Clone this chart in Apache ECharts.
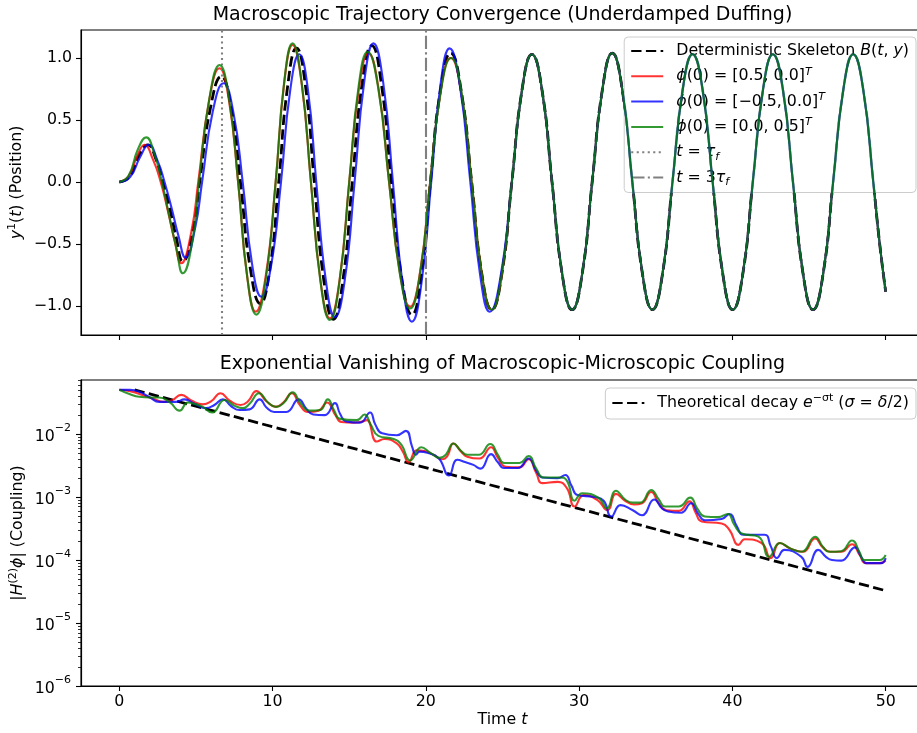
<!DOCTYPE html>
<html>
<head>
<meta charset="utf-8">
<script src="https://cdn.jsdelivr.net/npm/echarts@6/dist/echarts.min.js"></script>
<style>
  html, body { margin: 0; padding: 0; background: #fff; }
  #chart { width: 917px; height: 733px; }
</style>
</head>
<body>
<div id="chart"></div>
<script>
// ---------------- data ----------------
const xTicks = [0, 10, 20, 30, 40, 50];
const yTicksTop = [-1.0, -0.5, 0.0, 0.5, 1.0];
const refTimes = [6.667, 20];          // t = tau_f, t = 3 tau_f

// Top panel: [t, y1(t)]
const skeletonEarly = [[0,0],[0.65,0.04],[1.3,0.22],[1.85,0.30],[2.4,0.18],[2.83,0],[3.3,-0.22],[3.7,-0.44],[4.14,-0.64],[4.8,-0.39],[5.24,0],[5.95,0.6],[6.65,0.85],[7.28,0.61],[7.9,0],[8.55,-0.70],[9.2,-0.98],[9.8,-0.72],[10.4,0],[10.98,0.77],[11.56,1.08],[12.14,0.78],[12.72,0],[13.34,-0.79],[13.96,-1.107],[14.58,-0.80],[15.2,0],[15.84,0.79],[16.47,1.10],[17.11,0.78],[17.75,0],[18.42,-0.77],[19.09,-1.07],[19.7,-0.76],[20.3,0],[20.96,0.75],[21.62,1.04],[22.3,0.74]];
const redEarly = [[0,0],[0.6,0.045],[1.2,0.22],[1.64,0.30],[2.2,0.18],[2.7,0],[3.2,-0.25],[3.6,-0.47],[4.04,-0.655],[4.7,-0.40],[5.15,0],[5.85,0.65],[6.54,0.917],[7.15,0.66],[7.75,0],[8.33,-0.75],[8.9,-1.046],[9.55,-0.76],[10.2,0],[10.75,0.79],[11.3,1.105],[11.9,0.79],[12.5,0],[13.12,-0.79],[13.74,-1.10],[14.37,-0.79],[15.0,0],[15.63,0.75],[16.25,1.04],[16.93,0.74],[17.6,0],[18.29,-0.72],[18.98,-1.005],[19.63,-0.72],[20.28,0],[20.95,0.72],[21.62,1.0],[22.3,0.73]];
const blueEarly = [[0,0],[0.7,0.04],[1.35,0.20],[1.92,0.30],[2.5,0.17],[2.95,0],[3.45,-0.23],[3.85,-0.43],[4.32,-0.61],[4.95,-0.37],[5.4,0],[6.1,0.57],[6.8,0.796],[7.43,0.57],[8.05,0],[8.66,-0.66],[9.27,-0.925],[9.91,-0.67],[10.55,0],[11.15,0.74],[11.74,1.03],[12.3,0.75],[12.85,0],[13.46,-0.78],[14.07,-1.09],[14.71,-0.79],[15.35,0],[15.97,0.80],[16.58,1.118],[17.22,0.80],[17.85,0],[18.47,-0.81],[19.09,-1.127],[19.72,-0.81],[20.35,0],[20.95,0.78],[21.55,1.078],[22.23,0.77],[22.9,0],[23.54,-0.75],[24.17,-1.046],[24.89,-0.75]];
const greenEarly = [[0,0],[0.6,0.05],[1.2,0.26],[1.75,0.36],[2.3,0.22],[2.78,0],[3.25,-0.27],[3.7,-0.52],[4.14,-0.736],[4.8,-0.45],[5.2,0],[5.87,0.67],[6.54,0.944],[7.15,0.68],[7.75,0],[8.35,-0.77],[8.94,-1.07],[9.57,-0.77],[10.2,0],[10.75,0.80],[11.3,1.118],[11.9,0.80],[12.5,0],[13.12,-0.80],[13.74,-1.113],[14.37,-0.80],[15.0,0],[15.6,0.76],[16.2,1.05],[16.9,0.75],[17.6,0],[18.29,-0.73],[18.98,-1.02],[19.63,-0.73],[20.28,0],[20.96,0.72],[21.65,1.0],[22.32,0.73]];
// common (converged) part
const convergedA = [[22.99,0],[23.65,-0.74],[24.3,-1.03],[24.96,-0.74]];
const convergedB = [[25.61,0],[26.27,0.74],[26.92,1.03],[27.58,0.74],[28.23,0],[28.89,-0.74],[29.54,-1.03],[30.2,-0.74],[30.85,0],[31.51,0.74],[32.16,1.04],[32.82,0.74],[33.47,0],[34.13,-0.74],[34.78,-1.03],[35.44,-0.74],[36.09,0],[36.75,0.74],[37.40,1.03],[38.06,0.74],[38.71,0],[39.37,-0.74],[40.02,-1.03],[40.68,-0.74],[41.33,0],[41.99,0.74],[42.64,1.03],[43.3,0.74],[43.95,0],[44.61,-0.74],[45.26,-1.03],[45.92,-0.74],[46.57,0],[47.23,0.74],[47.88,1.03],[48.54,0.74],[49.19,0],[49.6,-0.49],[50,-0.885]];

// Bottom panel: [t, log10 |H^(2) phi|]
const redExp = [[0,-1.30],[0.7,-1.32],[1.5,-1.38],[2.3,-1.45],[2.9,-1.49],[3.4,-1.47],[4.04,-1.38],[4.7,-1.47],[5.45,-1.53],[6.0,-1.48],[6.6,-1.354],[7.2,-1.47],[7.9,-1.54],[8.4,-1.48],[8.94,-1.32],[9.6,-1.48],[10.2,-1.57],[10.7,-1.50],[11.25,-1.354],[11.8,-1.55],[12.3,-1.65],[13.0,-1.63],[13.55,-1.50],[14.1,-1.70],[14.5,-1.81],[15.3,-1.82],[15.9,-1.80],[16.15,-1.78],[16.8,-2.12],[17.3,-2.08],[18.1,-2.15],[18.5,-2.28],[18.87,-2.45],[19.4,-2.26],[19.9,-2.27],[20.5,-2.33],[21.05,-2.40],[21.4,-2.35],[21.8,-2.15],[22.3,-2.28],[22.7,-2.36],[23.5,-2.39],[24.25,-2.21],[24.7,-2.38],[25.2,-2.52],[26.1,-2.53],[26.7,-2.40],[27.2,-2.62],[27.6,-2.78],[28.6,-2.76],[29.2,-2.86],[29.7,-3.15],[30.3,-2.97],[31.2,-3.05],[31.85,-3.21],[32.4,-2.95],[33.0,-3.06],[33.6,-3.12],[34.1,-3.10],[34.7,-2.92],[35.2,-3.10],[35.7,-3.21],[36.5,-3.22],[37.2,-3.07],[37.6,-3.25],[38.0,-3.39],[39.3,-3.42],[39.8,-3.52],[40.4,-3.76],[40.8,-3.67],[41.9,-3.73],[42.5,-3.97],[43.1,-3.73],[43.8,-3.82],[44.6,-3.87],[45.4,-3.66],[45.9,-3.80],[46.4,-3.87],[47.1,-3.87],[47.8,-3.75],[48.3,-3.92],[48.7,-4.05],[49.6,-4.05],[50,-4.01]];
const blueExp = [[0,-1.30],[0.7,-1.30],[1.3,-1.33],[2.0,-1.42],[2.6,-1.49],[3.7,-1.49],[4.25,-1.45],[4.9,-1.52],[5.67,-1.59],[6.2,-1.54],[6.76,-1.45],[7.3,-1.56],[7.85,-1.62],[8.5,-1.61],[9.16,-1.45],[9.6,-1.58],[10.1,-1.65],[10.9,-1.65],[11.7,-1.45],[12.2,-1.60],[12.65,-1.69],[13.4,-1.70],[14.07,-1.51],[14.4,-1.68],[14.8,-1.80],[15.7,-1.82],[16.36,-1.66],[16.7,-1.85],[17.15,-1.99],[18.1,-2.02],[18.7,-1.95],[19.1,-2.20],[19.35,-2.33],[19.6,-2.28],[20.1,-2.30],[20.85,-2.39],[21.5,-2.66],[22.05,-2.41],[22.6,-2.45],[23.1,-2.49],[23.56,-2.55],[24.25,-2.32],[24.7,-2.45],[25.1,-2.54],[26.0,-2.54],[26.7,-2.39],[27.2,-2.58],[27.6,-2.69],[28.6,-2.70],[29.1,-2.65],[29.5,-2.82],[29.9,-2.97],[31.0,-3.00],[31.6,-3.06],[32.1,-3.31],[32.7,-3.13],[33.5,-3.21],[34.1,-3.29],[34.9,-3.04],[35.4,-3.18],[35.8,-3.23],[36.65,-3.25],[37.3,-3.10],[37.8,-3.28],[38.2,-3.37],[39.3,-3.35],[39.8,-3.27],[40.3,-3.47],[40.7,-3.60],[42.1,-3.60],[42.5,-3.78],[42.9,-3.97],[43.4,-3.84],[44.5,-3.95],[44.9,-4.11],[45.6,-3.84],[46.1,-3.95],[46.5,-4.00],[47.1,-4.01],[48.0,-3.80],[48.4,-3.95],[48.75,-4.05],[49.7,-4.05],[50,-3.97]];
const greenExp = [[0,-1.30],[0.7,-1.37],[1.3,-1.41],[2.0,-1.42],[2.6,-1.42],[3.3,-1.50],[3.93,-1.63],[4.47,-1.50],[5.0,-1.53],[5.45,-1.57],[6.06,-1.66],[6.87,-1.46],[7.5,-1.55],[8.07,-1.59],[8.5,-1.52],[9.12,-1.354],[9.7,-1.50],[10.25,-1.57],[10.75,-1.50],[11.3,-1.34],[11.85,-1.52],[12.4,-1.63],[13.1,-1.62],[13.6,-1.45],[14.0,-1.62],[14.4,-1.76],[15.5,-1.78],[16.0,-1.69],[16.4,-1.85],[16.9,-2.03],[17.9,-2.08],[18.4,-2.17],[18.98,-2.42],[19.7,-2.21],[20.3,-2.30],[20.9,-2.38],[21.3,-2.33],[21.8,-2.15],[22.3,-2.27],[22.7,-2.33],[23.45,-2.33],[24.2,-2.16],[24.7,-2.33],[25.1,-2.46],[26.1,-2.46],[26.7,-2.35],[27.2,-2.55],[27.7,-2.69],[28.7,-2.69],[29.2,-2.74],[29.7,-3.06],[30.2,-2.94],[31.3,-3.02],[31.8,-3.18],[32.4,-2.90],[33.0,-3.04],[33.5,-3.09],[34.0,-3.09],[34.7,-2.89],[35.2,-3.04],[35.6,-3.15],[36.5,-3.15],[37.25,-3.01],[37.7,-3.18],[38.2,-3.31],[39.05,-3.32],[39.7,-3.27],[40.1,-3.43],[40.6,-3.58],[41.7,-3.63],[42.4,-3.95],[43.1,-3.73],[43.8,-3.82],[44.5,-3.87],[45.4,-3.63],[45.9,-3.79],[46.3,-3.87],[47.1,-3.86],[47.8,-3.69],[48.3,-3.88],[48.6,-4.00],[49.6,-4.00],[50,-3.92]];
const decayExp = [[1,-1.30],[50,-4.487]];
const logDecades = [-6, -5, -4, -3, -2];
const minorMultipliers = [2, 3, 4, 5, 6, 7, 8, 9];

// ---------------- chart ----------------
const FONT = 'DejaVu Sans';
const FS = 15.8;
const SFS = 11;
const logMin = 1e-6, logMax = 0.0719;
const toVal = arr => arr.map(p => [p[0], Math.pow(10, p[1])]);

const richBase = {
  i: { fontStyle: 'italic', fontSize: FS, fontFamily: FONT, lineHeight: 20, color: '#000' },
  s: { fontSize: SFS, fontFamily: FONT, lineHeight: 11, verticalAlign: 'top', color: '#000' },
  si: { fontSize: SFS, fontStyle: 'italic', fontFamily: FONT, lineHeight: 11, verticalAlign: 'top', color: '#000' },
  sub: { fontSize: SFS, fontStyle: 'italic', fontFamily: FONT, lineHeight: 11, verticalAlign: 'bottom', color: '#000' }
};

const legendLabels = {
  skeleton: 'Deterministic Skeleton {i|B}({i|t}, {i|y})',
  phiA: '{i|ϕ}(0) = [0.5, 0.0]{si|T}',
  phiB: '{i|ϕ}(0) = [−0.5, 0.0]{si|T}',
  phiC: '{i|ϕ}(0) = [0.0, 0.5]{si|T}',
  tau1: '{i|t} = {i|τ}{sub|f}',
  tau3: '{i|t} = 3{i|τ}{sub|f}',
  decay: 'Theoretical decay {i|e}{s|−σt} ({i|σ} = {i|δ}/2)'
};

const minorTickVals = [];
logDecades.forEach(d => minorMultipliers.forEach(k => {
  const v = d + Math.log10(k);
  if (v <= Math.log10(logMax)) minorTickVals.push(v);
}));

const axisLineStyle = { color: '#000', width: 1.1 };
const tickStyle = { color: '#000', width: 1.1 };
const GRID_LEFT = 81, GRID_WIDTH = 843;

function xAxisCfg(gridIndex, showLabels) {
  return {
    type: 'value', gridIndex, min: -2.5, max: 52.5,
    axisLine: { show: true, onZero: false, lineStyle: axisLineStyle },
    axisTick: { show: true, customValues: xTicks, length: 5, lineStyle: tickStyle },
    axisLabel: { show: showLabels, customValues: xTicks, margin: 8, color: '#000', fontSize: FS, fontFamily: FONT },
    splitLine: { show: false },
    name: showLabels ? 'Time {i|t}' : '',
    nameLocation: 'middle', nameGap: 24, nameMoveOverlap: false,
    nameTextStyle: { color: '#000', fontSize: FS, fontFamily: FONT, lineHeight: 20, rich: richBase }
  };
}

const colored = { red: 'rgba(255,0,0,0.8)', blue: 'rgba(0,0,255,0.8)', green: 'rgba(0,128,0,0.8)' };

function lineSeries(name, data, color, width, type, xi, yi, z) {
  return {
    name, type: 'line', data, xAxisIndex: xi, yAxisIndex: yi,
    showSymbol: false, symbol: 'none', smooth: 0.5, z,
    lineStyle: { color, width, type }, itemStyle: { color },
    animation: false, silent: true
  };
}

const titleStyle = { fontFamily: FONT, fontSize: 19, fontWeight: 'normal', color: '#000', lineHeight: 22 };
const legendCommon = {
  orient: 'vertical', right: 1, itemWidth: 32, itemHeight: 14,
  backgroundColor: 'rgba(255,255,255,0.8)', borderColor: '#cccccc', borderWidth: 1, borderRadius: 4,
  itemStyle: { color: 'rgba(0,0,0,0)', opacity: 0, borderWidth: 0 },
  formatter: n => legendLabels[n], selectedMode: false,
  textStyle: { color: '#000', fontSize: FS, fontFamily: FONT, lineHeight: 20, padding: [0, 0, 0, 8], rich: richBase }
};

const gridCommon = { left: GRID_LEFT, width: GRID_WIDTH, show: true, borderColor: '#000', borderWidth: 1.1,
  backgroundColor: 'transparent', containLabel: false, outerBoundsMode: 'none' };

const option = {
  backgroundColor: '#fff',
  animation: false,
  textStyle: { fontFamily: FONT },
  title: [
    { text: 'Macroscopic Trajectory Convergence (Underdamped Duffing)', left: GRID_LEFT + GRID_WIDTH / 2, top: 4, padding: 0, textAlign: 'center', textStyle: titleStyle },
    { text: 'Exponential Vanishing of Macroscopic-Microscopic Coupling', left: GRID_LEFT + GRID_WIDTH / 2, top: 353, padding: 0, textAlign: 'center', textStyle: titleStyle }
  ],
  grid: [
    Object.assign({}, gridCommon, { top: 30, height: 305 }),
    Object.assign({}, gridCommon, { top: 380, height: 306 })
  ],
  xAxis: [xAxisCfg(0, false), xAxisCfg(1, true)],
  yAxis: [
    { type: 'value', gridIndex: 0, min: -1.234, max: 1.226, position: 'left',
      axisLine: { show: true, onZero: false, lineStyle: axisLineStyle },
      axisTick: { show: true, customValues: yTicksTop, length: 5, lineStyle: tickStyle },
      axisLabel: { customValues: yTicksTop, margin: 9, color: '#000', fontSize: FS, fontFamily: FONT,
        formatter: v => v.toFixed(1).replace('-', '−') },
      splitLine: { show: false },
      name: '{i|y}{s|1}({i|t}) (Position)', nameLocation: 'middle', nameGap: 54, nameMoveOverlap: false,
      nameTextStyle: { color: '#000', fontSize: FS, fontFamily: FONT, lineHeight: 20, rich: richBase } },
    { type: 'log', logBase: 10, gridIndex: 1, min: logMin, max: logMax, position: 'left',
      axisLine: { show: true, onZero: false, lineStyle: axisLineStyle },
      axisTick: { show: true, length: 5, lineStyle: tickStyle },
      axisLabel: { margin: 10, color: '#000', showMaxLabel: false,
        formatter: v => {
          const lg = Math.log10(v), e = Math.round(lg);
          if (Math.abs(lg - e) > 1e-6) return '';
          return '{b|10}{s|' + (e < 0 ? '−' : '') + Math.abs(e) + '}';
        },
        rich: {
          b: { fontSize: FS, fontFamily: FONT, lineHeight: 22, verticalAlign: 'bottom', color: '#000' },
          s: { fontSize: SFS, fontFamily: FONT, lineHeight: 11, verticalAlign: 'top', color: '#000' }
        } },
      splitLine: { show: false },
      name: '|{i|H}{s|(2)}{i|ϕ}| (Coupling)', nameLocation: 'middle', nameGap: 53, nameMoveOverlap: false,
      nameTextStyle: { color: '#000', fontSize: FS, fontFamily: FONT, lineHeight: 20, rich: richBase } },
    { type: 'value', gridIndex: 1, min: -6, max: Math.log10(logMax), position: 'left', offset: 0,
      axisLine: { show: true, onZero: false, lineStyle: axisLineStyle },
      axisTick: { show: true, customValues: minorTickVals, length: 3, lineStyle: { color: '#000', width: 0.8 } },
      axisLabel: { show: false }, splitLine: { show: false } }
  ],
  legend: [
    Object.assign({}, legendCommon, { data: ['skeleton', 'phiA', 'phiB', 'phiC', 'tau1', 'tau3'], top: 37, itemGap: 5.3, padding: [4, 7, 5, 6] }),
    Object.assign({}, legendCommon, { data: ['decay'], top: 388, padding: [5, 7, 6, 6] })
  ],
  series: [
    lineSeries('skeleton', skeletonEarly.concat(convergedA, convergedB), '#000', 2.8, [10.3, 4.4], 0, 0, 2),
    lineSeries('phiA', redEarly.concat(convergedA, convergedB), colored.red, 2.1, 'solid', 0, 0, 3),
    lineSeries('phiB', blueEarly.concat(convergedB), colored.blue, 2.1, 'solid', 0, 0, 4),
    lineSeries('phiC', greenEarly.concat(convergedA, convergedB), colored.green, 2.1, 'solid', 0, 0, 5),
    Object.assign(lineSeries('tau1', [], '#808080', 2.1, [2.1, 3.4], 0, 0, 1), {
      markLine: { silent: true, symbol: ['none', 'none'], label: { show: false }, animation: false,
        lineStyle: { color: '#808080', width: 2.1, type: [2.1, 3.4] }, data: [{ xAxis: refTimes[0] }] } }),
    Object.assign(lineSeries('tau3', [], '#808080', 2.1, [13.3, 3.3, 2.1, 3.3], 0, 0, 1), {
      markLine: { silent: true, symbol: ['none', 'none'], label: { show: false }, animation: false,
        lineStyle: { color: '#808080', width: 2.1, type: [13.3, 3.3, 2.1, 3.3] }, data: [{ xAxis: refTimes[1] }] } }),
    lineSeries('decay', toVal(decayExp), '#000', 2.8, [10.3, 4.4], 1, 1, 2),
    lineSeries('bRed', toVal(redExp), colored.red, 2.1, 'solid', 1, 1, 3),
    lineSeries('bBlue', toVal(blueExp), colored.blue, 2.1, 'solid', 1, 1, 4),
    lineSeries('bGreen', toVal(greenExp), colored.green, 2.1, 'solid', 1, 1, 5)
  ]
};

const chart = echarts.init(document.getElementById('chart'), null, { renderer: 'canvas' });
chart.setOption(option);
</script>
</body>
</html>
